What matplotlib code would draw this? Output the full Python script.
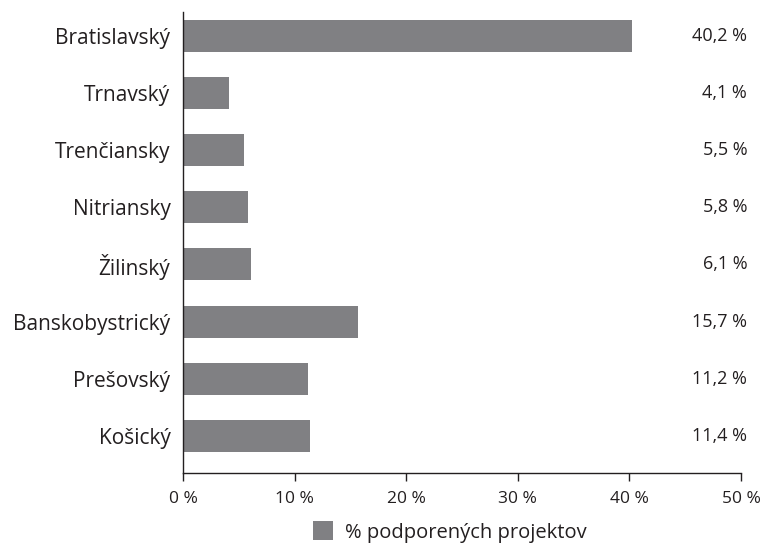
import matplotlib.pyplot as plt
import numpy as np

plt.rcParams['font.family'] = ['Open Sans', 'DejaVu Sans']

regions = ['Bratislavský', 'Trnavský', 'Trenčiansky', 'Nitriansky', 'Žilinský',
           'Banskobystrický', 'Prešovský', 'Košický']
share = [40.2, 4.1, 5.5, 5.8, 6.1, 15.7, 11.2, 11.4]
xticks = [0, 10, 20, 30, 40, 50]

bar_col = '#808083'
txt_col = '#231f20'

fig = plt.figure(figsize=(7.73, 5.44), dpi=100)
ax = fig.add_axes([0.2367, 0.1305, 0.7219, 0.8475])

y = np.arange(len(regions))
bars = ax.barh(y, share, height=0.56, color=bar_col, label='% podporených projektov')
ax.set_ylim(len(regions) - 0.35, -0.42)
ax.set_xlim(0, 50)
ax.set_yticks(y)
ax.set_yticklabels(regions, fontsize=15, color=txt_col)
ax.tick_params(axis='y', length=0, pad=9)
ax.set_xticks(xticks)
ax.set_xticklabels([str(t) + ' %' for t in xticks], fontsize=12.5, color=txt_col)
ax.tick_params(axis='x', direction='out', length=6, width=1, color=txt_col, pad=7)

for s in ['top', 'right']:
    ax.spines[s].set_visible(False)
for s in ['left', 'bottom']:
    ax.spines[s].set_color(txt_col)
    ax.spines[s].set_linewidth(1)

for yi, v in zip(y, share):
    ax.text(1.011, yi, ('%.1f' % v).replace('.', ',') + ' %', transform=ax.get_yaxis_transform(),
            ha='right', va='center', fontsize=13, color=txt_col)

fig.legend(handles=[bars], loc='upper left', bbox_to_anchor=(0.405, 0.042), frameon=False,
           fontsize=14.5, handlelength=1.0, handleheight=1.1, handletextpad=0.6,
           borderaxespad=0, borderpad=0, labelcolor=txt_col)

fig.savefig('out.png', dpi=100)
